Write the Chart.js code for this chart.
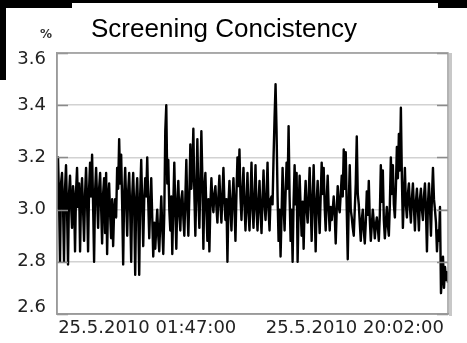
<!DOCTYPE html>
<html><head><meta charset="utf-8">
<script src="https://cdn.jsdelivr.net/npm/chart.js@4/dist/chart.umd.min.js"></script>
<style>
html,body{margin:0;padding:0;background:#fff;overflow:hidden}
#wrap{position:relative;width:467px;height:343px}
canvas{position:absolute;left:0;top:0}
.blk{position:absolute;background:#000}
</style></head>
<body>
<div id="wrap">
<canvas id="c" width="467" height="343"></canvas>
<div class="blk" style="left:0;top:0;width:467px;height:3px"></div>
<div class="blk" style="left:0;top:0;width:72px;height:8px"></div>
<div class="blk" style="left:438px;top:0;width:29px;height:8px"></div>
<div class="blk" style="left:0;top:0;width:6px;height:80px"></div>
</div>
<script>
const titleText = "Screening Concistency";
const unitText = "%";
const yTicks = [2.6, 2.8, 3.0, 3.2, 3.4, 3.6];
const xTickLabels = ["25.5.2010 01:47:00", "25.5.2010 20:02:00"];
const xTickIndex = [90, 297];
const values = [
3.00,3.20,3.05,2.80,3.10,3.14,3.02,2.80,3.08,3.17,
3.00,2.79,3.06,3.13,3.02,2.93,3.09,3.04,2.84,3.07,
3.16,3.01,3.10,2.84,3.05,3.12,3.00,2.88,3.06,3.16,
3.03,2.84,3.08,3.18,3.05,3.21,3.02,2.80,3.07,3.16,
3.04,2.93,3.08,3.14,3.01,2.87,3.06,3.12,2.91,3.14,
2.83,3.05,3.10,2.98,2.89,3.04,2.86,3.00,3.04,2.97,
3.16,3.08,3.27,3.10,3.21,3.02,2.79,3.06,3.16,3.03,
2.90,3.07,3.14,3.00,2.80,3.05,3.14,3.01,2.75,3.04,
3.12,2.99,2.75,3.06,3.19,3.02,2.86,3.04,3.12,3.05,
3.20,3.03,2.89,3.02,3.12,2.97,2.82,2.95,2.85,2.93,
3.00,2.90,2.84,2.95,3.05,2.93,2.83,2.98,3.30,3.40,
3.10,3.19,3.00,2.92,3.05,2.83,3.02,3.18,3.00,2.85,
3.03,3.11,2.98,2.92,3.04,3.07,2.97,2.90,3.04,3.19,
3.01,2.90,3.05,3.25,3.08,3.15,3.31,3.06,2.90,3.08,
3.27,3.05,2.93,3.10,3.30,3.12,2.85,3.08,3.14,3.00,
2.88,3.04,2.84,3.02,3.12,3.03,2.99,3.06,3.09,3.01,
2.95,3.05,3.13,3.02,2.95,3.06,3.16,3.03,2.96,3.04,
2.80,3.02,3.11,3.00,2.92,3.04,3.12,3.01,2.88,3.06,
3.20,3.09,3.23,3.05,2.96,3.07,3.16,3.02,2.92,3.03,
3.14,2.99,2.92,3.04,3.18,3.01,2.93,3.05,3.17,3.00,
2.92,3.03,3.11,2.99,2.91,3.04,3.15,3.02,2.96,3.05,
3.18,3.00,2.92,3.04,3.05,3.02,3.20,3.35,3.48,3.30,
3.05,2.88,3.00,2.82,2.98,3.16,3.02,2.92,3.06,3.18,
3.08,3.32,3.05,2.88,3.00,2.80,3.03,3.17,3.02,3.14,
2.80,3.00,3.13,3.01,2.90,3.03,2.85,3.02,3.11,3.00,
2.95,3.05,3.16,3.02,2.88,3.04,3.17,3.00,2.84,3.03,
3.11,3.00,2.91,3.05,3.18,3.06,3.16,3.01,2.92,3.04,
3.13,3.00,2.92,3.01,2.96,3.00,3.05,2.98,2.87,3.00,
3.09,3.01,2.99,3.06,3.13,3.05,3.23,3.08,3.22,3.00,
2.81,3.02,3.17,3.00,2.97,2.93,2.90,3.00,3.10,3.28,
3.06,3.02,2.95,2.88,2.96,3.00,2.92,2.87,2.95,3.07,
2.98,3.11,2.96,2.88,2.94,3.00,2.95,2.89,2.94,2.97,
2.93,2.88,2.98,3.17,3.03,3.15,2.96,2.89,2.95,3.01,
2.94,2.90,3.02,3.20,3.06,3.17,3.02,2.97,3.08,3.24,
3.12,3.29,3.15,3.39,3.12,2.93,3.05,3.16,3.02,2.97,
3.06,3.10,3.01,2.95,3.04,3.10,3.01,2.92,3.03,3.08,
3.00,2.92,3.04,3.08,3.00,2.96,3.05,3.10,3.00,2.84,
3.02,3.10,3.01,2.90,3.05,3.16,3.04,3.00,2.95,2.84,
2.92,2.88,3.01,2.68,2.75,2.82,2.70,2.78,2.73,2.76,2.72
];

const points = values.map((v, i) => ({x: i, y: v}));
const yMin = yTicks[0], yMax = yTicks[yTicks.length - 1];

const framePlugin = {
  id: 'frame',
  afterDraw(chart) {
    const ctx = chart.ctx, a = chart.chartArea, ys = chart.scales.y;
    ctx.save();
    ctx.strokeStyle = '#8a8a8a';
    ctx.lineWidth = 1.5;
    yTicks.forEach(v => {
      const y = Math.round(ys.getPixelForValue(v)) + 0.5;
      ctx.beginPath();
      ctx.moveTo(a.left, y); ctx.lineTo(a.left + 11, y);
      ctx.moveTo(a.right - 11, y); ctx.lineTo(a.right, y);
      ctx.stroke();
    });
    ctx.strokeStyle = '#9a9a9a';
    ctx.lineWidth = 1.5;
    ctx.strokeRect(a.left, a.top, a.right - a.left, a.bottom - a.top);
    ctx.fillStyle = '#c8c8c8';
    ctx.fillRect(a.right + 1, a.top, 3, a.bottom - a.top + 2);
    ctx.fillStyle = '#000';
    ctx.font = '26px "Liberation Sans", Arial, sans-serif';
    ctx.textAlign = 'left';
    ctx.textBaseline = 'alphabetic';
    ctx.fillText(titleText, 91, 37);
    ctx.fillStyle = '#333';
    ctx.font = 'bold 12px "DejaVu Sans", sans-serif';
    ctx.fillText(unitText, 40, 38);
    ctx.restore();
  }
};

new Chart(document.getElementById('c'), {
  type: 'line',
  data: { datasets: [{
    data: points,
    borderColor: '#000',
    borderWidth: 2.4,
    borderJoinStyle: 'round',
    pointRadius: 0,
    tension: 0,
    fill: false
  }]},
  options: {
    responsive: false,
    animation: false,
    devicePixelRatio: 1,
    parsing: false,
    normalized: true,
    layout: { padding: { top: 53, right: 19, left: 0, bottom: 0 } },
    plugins: { legend: { display: false }, title: { display: false }, tooltip: { enabled: false } },
    scales: {
      x: {
        type: 'linear',
        min: 0,
        max: values.length - 1,
        afterFit(s) { s.height = 29; },
        afterBuildTicks(s) { s.ticks = xTickIndex.map(v => ({value: v})); },
        ticks: {
          autoSkip: false,
          maxRotation: 0,
          padding: 4,
          color: '#222',
          font: { family: '"DejaVu Sans", sans-serif', size: 18 },
          callback(v) { const k = xTickIndex.indexOf(v); return k >= 0 ? xTickLabels[k] : ''; }
        },
        grid: { display: false, drawTicks: false },
        border: { display: true, color: '#9a9a9a', width: 1.5 }
      },
      y: {
        min: yMin,
        max: yMax,
        afterFit(s) { s.width = 57; },
        afterBuildTicks(s) { s.ticks = yTicks.map(v => ({value: v})); },
        ticks: {
          padding: 11,
          color: '#222',
          font: { family: '"DejaVu Sans", sans-serif', size: 18, lineHeight: '13px' },
          callback(v) {
            const s = v.toFixed(1);
            if (Math.abs(v - yMax) < 1e-9) return ['', s];
            if (Math.abs(v - yMin) < 1e-9) return [s, ''];
            return s;
          }
        },
        grid: { color: '#d2d2d2', lineWidth: 1.5, drawTicks: false },
        border: { display: true, color: '#9a9a9a', width: 1.5 }
      }
    }
  },
  plugins: [framePlugin]
});
</script>
</body></html>
